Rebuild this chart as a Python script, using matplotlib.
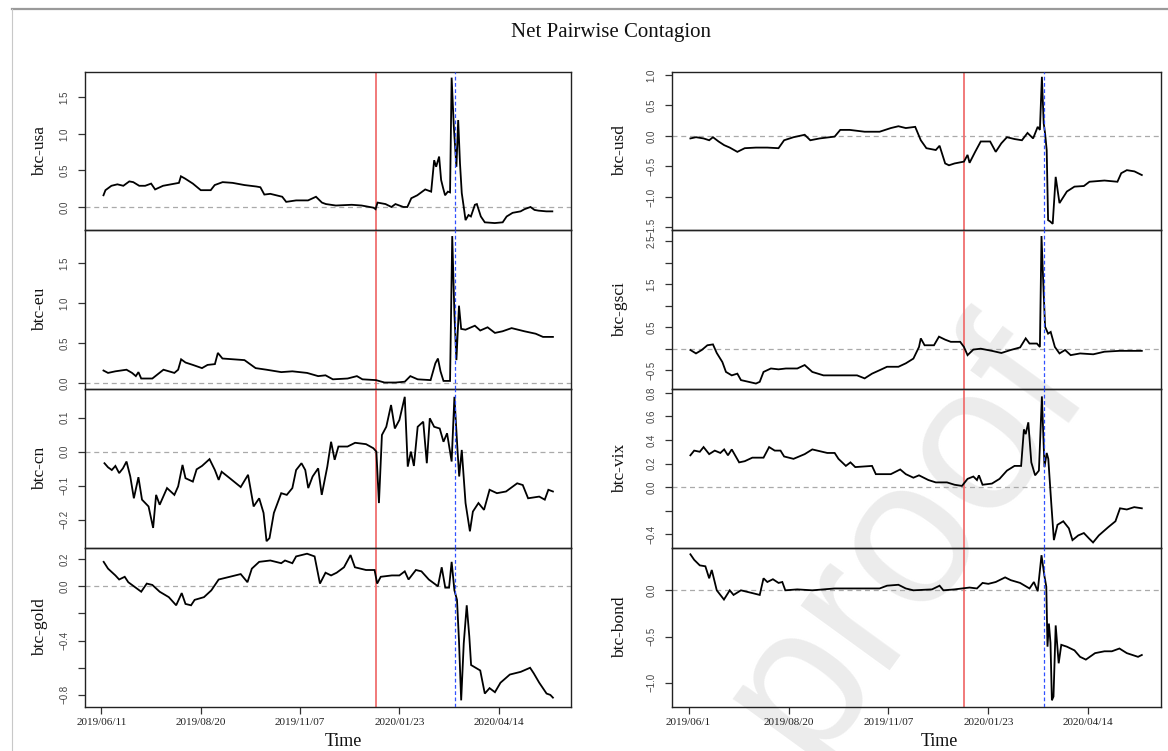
import matplotlib
matplotlib.use("Agg")
import matplotlib.pyplot as plt
from matplotlib.lines import Line2D

# ---------------- data (x = observation index, y = net pairwise contagion) ----------------
tick_idx = [1, 51, 101, 151, 201]
tick_lab_left = ["2019/06/11", "2019/08/20", "2019/11/07", "2020/01/23", "2020/04/14"]
tick_lab_right = ["2019/06/1", "2019/08/20", "2019/11/07", "2020/01/23", "2020/04/14"]
red_event = 139
blue_event = 179

usa_x = [2, 3, 6, 9, 12, 15, 17, 20, 23, 26, 28, 32, 40, 41, 43, 47, 51, 56, 58, 62, 67, 73, 79, 81, 83, 86,
         92, 94, 99, 105, 109, 112, 114, 119, 127, 132, 138, 139, 140, 144, 147, 149, 153, 155, 157, 160,
         164, 167, 168.5, 169.5, 171, 172, 173, 174, 175.4, 176.5, 177.3, 178.4, 179.7, 180.6, 181.5,
         182.4, 183.4, 184.3, 185.8, 187, 189, 190, 192, 194, 199, 203, 205, 208, 212, 214, 217, 219, 221, 225, 228]
usa_y = [0.16, 0.23, 0.29, 0.31, 0.29, 0.35, 0.34, 0.29, 0.29, 0.32, 0.24, 0.29, 0.33, 0.42, 0.39, 0.32, 0.23,
         0.23, 0.30, 0.34, 0.33, 0.30, 0.28, 0.27, 0.17, 0.18, 0.14, 0.07, 0.09, 0.09, 0.14, 0.06, 0.04, 0.02,
         0.03, 0.02, -0.01, -0.03, 0.06, 0.04, 0.00, 0.04, 0.00, 0.00, 0.12, 0.16, 0.24, 0.21, 0.64, 0.55,
         0.69, 0.37, 0.26, 0.16, 0.21, 0.20, 1.77, 1.10, 0.55, 1.19, 0.60, 0.19, 0.00, -0.18, -0.11, -0.13,
         0.03, 0.04, -0.13, -0.21, -0.22, -0.21, -0.13, -0.08, -0.06, -0.03, 0.00, -0.04, -0.05, -0.06, -0.06]

eu_x = [2, 4.3, 8, 13.6, 16.4, 18.3, 19.6, 21, 26.6, 32.2, 37.7, 39.6, 41.1, 43.3, 47, 51.6, 54.4, 58.1,
        59.6, 61.9, 73, 78.6, 84.1, 91.5, 97.1, 104.5, 110.1, 113.8, 117.5, 124.9, 129.6, 132.4, 139.2,
        143.5, 149.1, 153.7, 156.5, 160.2, 166.7, 169.1, 170.4, 171.7, 173.2, 176.5, 177.6, 178.7, 179.7,
        181, 182.1, 184.3, 189, 191.7, 195.4, 199.1, 202.9, 207.5, 214, 219.6, 223.3, 228.3]
eu_y = [0.16, 0.13, 0.15, 0.17, 0.13, 0.09, 0.14, 0.06, 0.06, 0.17, 0.13, 0.17, 0.30, 0.26, 0.23, 0.19, 0.23,
        0.24, 0.38, 0.31, 0.29, 0.19, 0.17, 0.14, 0.15, 0.13, 0.09, 0.10, 0.05, 0.06, 0.09, 0.05, 0.04, 0.01,
        0.01, 0.02, 0.09, 0.05, 0.04, 0.25, 0.31, 0.15, 0.03, 0.03, 1.84, 0.87, 0.29, 0.97, 0.68, 0.67, 0.72,
        0.66, 0.70, 0.63, 0.65, 0.69, 0.65, 0.62, 0.58, 0.58]

cn_x = [2.5, 4.3, 6.2, 8, 9.9, 11.8, 13.6, 15.5, 17.3, 19.6, 21.4, 24.7, 27, 28.5, 30.3, 34, 37.7, 39.6,
        41.8, 43.3, 47, 48.9, 51.6, 55.4, 58.1, 60, 61.5, 65.6, 71.1, 74.8, 77.6, 80.4, 82.6, 84.1, 85.6,
        87.8, 91.5, 94.3, 97.1, 99, 101.7, 103.6, 105.1, 107.3, 110.1, 111.9, 114.7, 116.6, 118.4, 120.3,
        124.9, 128.7, 134.2, 137.9, 139.4, 140.7, 142.2, 144.4, 146.8, 148.7, 151, 153.7, 155.2, 156.8,
        158.3, 160.2, 163, 164.8, 166.3, 168.5, 171.3, 173.2, 175, 177.3, 178.7, 180.2, 181.1, 182.4,
        184.3, 186.5, 188, 190.8, 193.6, 196.4, 200.1, 204.7, 210.3, 213.1, 215.8, 221.4, 224.2, 226, 228.3]
cn_y = [-0.034, -0.046, -0.054, -0.042, -0.063, -0.049, -0.029, -0.073, -0.137, -0.075, -0.141, -0.161,
        -0.224, -0.127, -0.156, -0.107, -0.127, -0.102, -0.039, -0.078, -0.088, -0.052, -0.042, -0.022,
        -0.054, -0.083, -0.059, -0.078, -0.104, -0.068, -0.161, -0.137, -0.180, -0.263, -0.254, -0.180,
        -0.122, -0.127, -0.107, -0.054, -0.034, -0.054, -0.107, -0.073, -0.049, -0.127, -0.044, 0.029,
        -0.024, 0.015, 0.015, 0.026, 0.022, 0.010, 0.000, -0.151, 0.049, 0.073, 0.137, 0.068, 0.093, 0.161,
        -0.044, 0.000, -0.042, 0.073, 0.088, -0.034, 0.098, 0.073, 0.068, 0.029, 0.054, -0.029, 0.161,
        0.010, -0.073, 0.005, -0.151, -0.234, -0.176, -0.151, -0.171, -0.112, -0.122, -0.117, -0.093,
        -0.098, -0.137, -0.132, -0.141, -0.112, -0.117]

gold_x = [2.1, 4.3, 8, 9.9, 12.7, 14.5, 17.3, 21, 23.8, 26.6, 30.3, 34.9, 38.6, 41.4, 43.3, 46.1, 47.9,
          52.6, 56.3, 60, 65.6, 71.1, 74.5, 76.7, 80.4, 86, 91.5, 93.4, 97.1, 99, 104.5, 108.3, 111,
          113.8, 116.6, 119.4, 123.1, 126.4, 128.6, 134.2, 138.5, 139.8, 141.6, 147.2, 151, 153.7, 155.6,
          159.3, 162.1, 165.8, 170.4, 172.3, 174.1, 176, 177.3, 178.7, 180, 181, 182.1, 183.4, 184.9,
          186.2, 187.1, 191.7, 194, 196.4, 199.1, 201.9, 206.6, 212.1, 216.8, 218.6, 221.4, 225.1, 227, 228.3]
gold_y = [0.18, 0.13, 0.08, 0.05, 0.07, 0.03, 0.00, -0.04, 0.02, 0.01, -0.04, -0.08, -0.14, -0.05, -0.13,
          -0.14, -0.10, -0.08, -0.03, 0.05, 0.07, 0.09, 0.03, 0.13, 0.18, 0.19, 0.17, 0.19, 0.17, 0.22,
          0.24, 0.22, 0.02, 0.10, 0.08, 0.10, 0.14, 0.23, 0.14, 0.12, 0.12, 0.02, 0.07, 0.08, 0.08, 0.11,
          0.05, 0.12, 0.11, 0.05, 0.00, 0.14, -0.01, -0.01, 0.18, -0.03, -0.10, -0.40, -0.84, -0.42, -0.14,
          -0.37, -0.58, -0.62, -0.79, -0.75, -0.78, -0.71, -0.65, -0.63, -0.60, -0.64, -0.71, -0.79, -0.80, -0.82]

usd_x = [1.9, 4.7, 8.5, 11.3, 13.2, 16, 18.8, 21.6, 25.4, 29.1, 34.7, 40.4, 46, 48.8, 53.5, 59.1, 61.9,
         66.6, 74.1, 76.9, 81.6, 89.1, 96.6, 102.2, 106, 109.7, 114.4, 117.2, 120, 124.7, 126.6, 129.4,
         131.3, 134.1, 138.8, 140.6, 141.6, 144.4, 147.2, 151.9, 154.7, 157.5, 160.3, 164.1, 167.8, 170.6,
         173.4, 175.7, 176.8, 177.8, 178.7, 179.4, 180.2, 180.9, 181.9, 183.2, 184.7, 186.6, 190.3, 194.1,
         198.8, 201.6, 209.1, 215.6, 217.5, 220.3, 224.1, 227.8]
usd_y = [-0.04, -0.02, -0.04, -0.07, -0.02, -0.09, -0.15, -0.19, -0.26, -0.20, -0.19, -0.19, -0.20, -0.07,
         -0.02, 0.02, -0.07, -0.04, -0.01, 0.10, 0.10, 0.07, 0.07, 0.13, 0.16, 0.13, 0.15, -0.07, -0.20,
         -0.23, -0.16, -0.45, -0.48, -0.45, -0.42, -0.31, -0.44, -0.26, -0.09, -0.09, -0.26, -0.12, -0.02,
         -0.05, -0.07, 0.05, -0.04, 0.15, 0.10, 0.97, 0.21, 0.04, -0.23, -1.38, -1.40, -1.44, -0.67, -1.10,
         -0.91, -0.83, -0.82, -0.75, -0.73, -0.75, -0.61, -0.56, -0.58, -0.64]

gsci_x = [1.9, 4.7, 7.6, 10.4, 13.2, 15.1, 17.9, 19.7, 22.6, 25.4, 27.2, 31, 34.7, 36.6, 38.5, 42.2, 46,
          49.7, 55.4, 59.1, 62.9, 68.5, 77.9, 85.3, 89.1, 92.8, 96.6, 100.3, 106, 109.7, 113.5, 116.3,
          117.2, 119.1, 123.8, 126.3, 129.4, 132.2, 136.9, 138.8, 140.6, 143.5, 147.2, 152.8, 157.5, 162.2,
          166.9, 169.7, 171.6, 175.3, 176.8, 177.6, 178.7, 179.4, 180.9, 182.2, 184.3, 186.6, 189.4, 192.2,
          196.9, 203.5, 209.1, 216.6, 222.2, 227.8]
gsci_y = [-0.03, -0.11, -0.03, 0.08, 0.10, -0.10, -0.31, -0.54, -0.62, -0.58, -0.73, -0.77, -0.81, -0.77,
          -0.54, -0.46, -0.48, -0.46, -0.46, -0.38, -0.54, -0.62, -0.62, -0.62, -0.69, -0.58, -0.50, -0.42,
          -0.42, -0.34, -0.23, 0.04, 0.24, 0.08, 0.08, 0.28, 0.21, 0.16, 0.16, 0.04, -0.15, -0.02, 0.00,
          -0.05, -0.10, -0.03, 0.03, 0.24, 0.12, 0.12, 0.04, 2.62, 1.28, 0.51, 0.35, 0.39, 0.04, -0.11,
          -0.03, -0.15, -0.11, -0.13, -0.07, -0.05, -0.05, -0.05]

vix_x = [1.9, 3.8, 6.6, 8.5, 11.3, 14.1, 16.9, 18.8, 20.7, 22.6, 26.3, 29.1, 32.9, 38.5, 41.3, 44.1, 47,
         48.8, 53.5, 59.1, 62.9, 70.4, 74.1, 76, 79.7, 82, 84.4, 92.8, 94.7, 102.2, 106.9, 109.7, 113.5,
         116.3, 121, 124.7, 130.3, 134.1, 137.8, 140.6, 143.5, 145.3, 146.3, 148.1, 152.8, 156.6, 160.3,
         164.1, 167.4, 168.8, 169.7, 171, 172.5, 174.4, 176.3, 177.8, 179.1, 180.2, 181, 182.5, 183.8,
         185.6, 188.5, 191.3, 193.1, 196, 198.8, 201.6, 203.4, 206.3, 211, 214.6, 216.9, 220.3, 224, 227.8]
vix_y = [0.27, 0.31, 0.30, 0.34, 0.28, 0.31, 0.29, 0.32, 0.27, 0.32, 0.21, 0.22, 0.25, 0.25, 0.34, 0.31,
         0.31, 0.26, 0.24, 0.28, 0.32, 0.29, 0.29, 0.24, 0.18, 0.21, 0.17, 0.18, 0.11, 0.11, 0.15, 0.11,
         0.08, 0.10, 0.06, 0.04, 0.04, 0.02, 0.01, 0.07, 0.09, 0.06, 0.10, 0.02, 0.03, 0.07, 0.14, 0.18,
         0.18, 0.49, 0.45, 0.55, 0.21, 0.10, 0.14, 0.77, 0.17, 0.29, 0.24, -0.14, -0.45, -0.32, -0.29,
         -0.35, -0.45, -0.41, -0.39, -0.44, -0.47, -0.41, -0.34, -0.29, -0.18, -0.19, -0.17, -0.18]

bond_x = [1.9, 3.8, 6.6, 9.4, 11.3, 12.6, 15.1, 16.9, 18.7, 21.6, 23.5, 27.2, 32.9, 36.6, 38.5, 40.4,
          43.2, 46, 47.9, 49.4, 55.4, 62.9, 74.1, 89.1, 96.6, 100.3, 106, 109.7, 113.5, 122.8, 126.6,
          128.5, 134.1, 141.6, 145.3, 148.1, 151, 154.7, 159.4, 162.2, 166.9, 171.6, 173.8, 175.7, 177.6,
          179.1, 180, 180.6, 181.3, 182.1, 182.8, 183.6, 184.7, 186.2, 187.5, 190.3, 194.1, 196.9, 199.8,
          204.4, 209.1, 212.8, 216.6, 220.3, 225.9, 227.8]
bond_y = [0.39, 0.33, 0.27, 0.26, 0.13, 0.22, 0.00, -0.05, -0.10, 0.00, -0.05, 0.00, -0.03, -0.05, 0.13,
          0.09, 0.12, 0.08, 0.09, 0.00, 0.01, 0.00, 0.02, 0.02, 0.02, 0.05, 0.06, 0.02, 0.00, 0.01, 0.05,
          0.00, 0.01, 0.03, 0.02, 0.08, 0.07, 0.09, 0.14, 0.11, 0.08, 0.02, 0.09, -0.01, 0.38, 0.15, 0.04,
          -0.61, -0.36, -0.57, -1.19, -1.15, -0.38, -0.79, -0.59, -0.61, -0.65, -0.72, -0.75, -0.68, -0.66,
          -0.66, -0.63, -0.68, -0.72, -0.70]

# panel specs: (label, x, y, ylim, ticks, labelled ticks)
left_panels = [
    ("btc-usa", usa_x, usa_y, (-0.315, 1.847), [0, 0.5, 1.0, 1.5], [0, 0.5, 1.0, 1.5]),
    ("btc-eu", eu_x, eu_y, (-0.071, 1.916), [0, 0.5, 1.0, 1.5], [0, 0.5, 1.0, 1.5]),
    ("btc-cn", cn_x, cn_y, (-0.283, 0.184), [-0.2, -0.1, 0.0, 0.1], [-0.2, -0.1, 0.0, 0.1]),
    ("btc-gold", gold_x, gold_y, (-0.889, 0.282), [-0.8, -0.6, -0.4, -0.2, 0.0, 0.2], [-0.8, -0.4, 0.0, 0.2]),
]
right_panels = [
    ("btc-usd", usd_x, usd_y, (-1.541, 1.049), [-1.5, -1.0, -0.5, 0.0, 0.5, 1.0], [-1.5, -1.0, -0.5, 0.0, 0.5, 1.0]),
    ("btc-gsci", gsci_x, gsci_y, (-0.937, 2.76), [-0.5, 0, 0.5, 1.0, 1.5, 2.0, 2.5], [-0.5, 0.5, 1.5, 2.5]),
    ("btc-vix", vix_x, vix_y, (-0.517, 0.833), [-0.4, -0.2, 0.0, 0.2, 0.4, 0.6, 0.8], [-0.4, 0.0, 0.2, 0.4, 0.6, 0.8]),
    ("btc-bond", bond_x, bond_y, (-1.263, 0.458), [-1.0, -0.5, 0.0], [-1.0, -0.5, 0.0]),
]

# ---------------- figure ----------------
W, H = 1168, 751
fig = plt.figure(figsize=(W / 100, H / 100), dpi=100)
fig.patch.set_facecolor("white")

SERIF = ["Liberation Serif", "DejaVu Serif"]
SANS = ["Liberation Sans", "DejaVu Sans"]

# page border lines
fig.add_artist(Line2D([12 / W, 1], [1 - 8.5 / H, 1 - 8.5 / H], color="#9a9a9a", lw=1.6))
fig.add_artist(Line2D([12 / W, 12 / W], [0, 1 - 8.5 / H], color="#c8c8c8", lw=0.8))

# watermark (behind the panels)
fig.text(905 / W, 1 - 540 / H, "proof", rotation=54, rotation_mode="anchor",
         ha="center", va="center", fontsize=150, color="#ececec", family=SANS, zorder=-5)

rows = [72, 230, 389, 548, 707]
cols = [(85, 571, left_panels, tick_lab_left, 40, 343), (672, 1161, right_panels, tick_lab_right, 620, 939)]
xlim = (-7.3, 237.4)


def fmt(v):
    s = f"{v:.1f}"
    return s.replace("-", "\u2212")


for (x0, x1, panels, xlabs, ylab_x, time_x) in cols:
    for r, (lab, xs, ys, ylim, ticks, labelled) in enumerate(panels):
        top, bot = rows[r], rows[r + 1]
        ax = fig.add_axes([x0 / W, 1 - bot / H, (x1 - x0) / W, (bot - top) / H])
        ax.set_facecolor("none")
        ax.set_xlim(*xlim)
        ax.set_ylim(*ylim)
        ax.axhline(0, color="#aaaaaa", lw=0.9, ls=(0, (4, 3)), zorder=1)
        ax.axvline(red_event, color="#f07070", lw=1.3, zorder=2)
        ax.axvline(blue_event, color="#3050ff", lw=0.9, ls=(0, (3, 2)), zorder=4)
        ax.plot(xs, ys, color="black", lw=1.3, zorder=3, solid_joinstyle="miter")
        for s in ax.spines.values():
            s.set_linewidth(1.0)
            s.set_color("#222222")
        ax.set_yticks(ticks)
        ax.set_yticklabels([fmt(t) if any(abs(t - l) < 1e-9 for l in labelled) else "" for t in ticks])
        ax.tick_params(axis="y", direction="out", length=5, width=0.9, pad=6, labelsize=7,
                       labelcolor="#444444", color="#333333")
        for t in ax.get_yticklabels():
            t.set_rotation(90)
            t.set_va("center")
            t.set_family(SANS)
        if r < 3:
            ax.set_xticks([])
        else:
            ax.set_xticks(tick_idx)
            ax.set_xticklabels(xlabs, family=SERIF, fontsize=8, color="#222222")
            ax.tick_params(axis="x", direction="out", length=5, width=0.9, pad=3, color="#333333")
        fig.text(ylab_x / W, 1 - (top + bot) / 2 / H, lab, rotation=90, ha="center", va="center",
                 family=SERIF, fontsize=12.5, color="#111111")
    fig.text(time_x / W, 1 - 741 / H, "Time", ha="center", va="center", family=SERIF, fontsize=13,
             color="#111111")

fig.text(611 / W, 1 - 33 / H, "Net Pairwise Contagion", ha="center", va="center", family=SERIF,
         fontsize=15, color="#111111")

fig.savefig("out.png", dpi=100, facecolor="white")
